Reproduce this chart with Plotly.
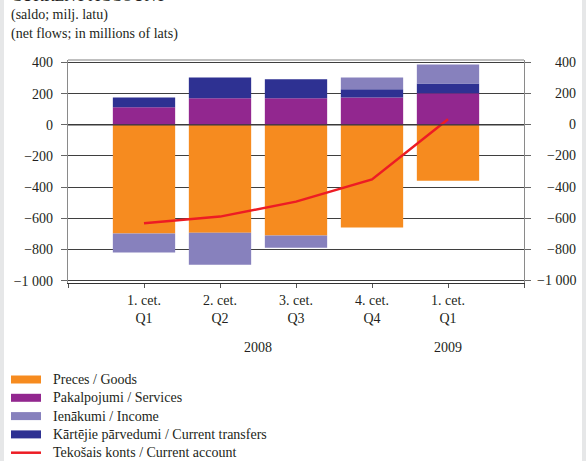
import plotly.graph_objects as go

# ---- data ----
categories = [0, 1, 2, 3, 4]
quarter_labels = ["1. cet.<br>Q1", "2. cet.<br>Q2", "3. cet.<br>Q3", "4. cet.<br>Q4", "1. cet.<br>Q1"]
years = ["2008", "2009"]
year_positions = [1.5, 4]

goods = [-697, -693, -710, -659, -359]
services = [112, 170, 170, 176, 202]
income = [-122, -205, -79, 76, 121]
transfers = [64, 134, 122, 52, 64]
current_account = [-631, -589, -493, -350, 36]

series_names = [
    "Preces / Goods",
    "Pakalpojumi / Services",
    "Ienākumi / Income",
    "Kārtējie pārvedumi / Current transfers",
    "Tekošais konts / Current account",
]
y_ticks = [-1000, -800, -600, -400, -200, 0, 200, 400]
y_tick_text = ["\u22121 000", "\u2212800", "\u2212600", "\u2212400", "\u2212200", "0", "200", "400"]

# ---- styles ----
C_GOODS = "#f68b1f"
C_SERV = "#92278f"
C_INC = "#8781bd"
C_TRANS = "#2e3192"
C_LINE = "#ed1c24"
FONT = "Liberation Serif"
TXT = "#231f20"

# pixel geometry of plot area
L, R, T, B = 68, 524, 60, 283
W, H = R - L, B - T


def px(xp):
    return (xp - L) / W


def py(yp):
    return (B - yp) / H


fig = go.Figure()
bw = 0.82
fig.add_bar(x=categories, y=goods, marker_color=C_GOODS, width=bw, name=series_names[0], showlegend=False)
fig.add_bar(x=categories, y=services, marker_color=C_SERV, width=bw, name=series_names[1], showlegend=False)
fig.add_bar(x=categories, y=transfers, marker_color=C_TRANS, width=bw, name=series_names[3], showlegend=False)
fig.add_bar(x=categories, y=income, marker_color=C_INC, width=bw, name=series_names[2], showlegend=False)
fig.add_scatter(x=categories, y=current_account, mode="lines", line=dict(color=C_LINE, width=2.5),
                name=series_names[4], showlegend=False)
fig.update_traces(marker_line_width=0, selector=dict(type="bar"))

shapes = []
annotations = []

# gray page strips at the sides
shapes.append(dict(type="rect", xref="paper", yref="paper", x0=px(0), x1=px(4), y0=py(461), y1=py(0),
                   fillcolor="#e6e7e8", line_width=0, layer="below"))
shapes.append(dict(type="rect", xref="paper", yref="paper", x0=px(582), x1=px(586), y0=py(461), y1=py(0),
                   fillcolor="#e6e7e8", line_width=0, layer="below"))
# top frame
shapes.append(dict(type="line", xref="paper", yref="paper", x0=0, x1=1, y0=1, y1=1,
                   line=dict(color="#808080", width=1.2)))
# zero line above bars
shapes.append(dict(type="line", xref="paper", yref="y", x0=0, x1=1, y0=0, y1=0,
                   line=dict(color="#3a3a3a", width=1.3), layer="above"))

# right-side tick labels (right aligned)
for v, t in zip(y_ticks, y_tick_text):
    annotations.append(dict(x=px(578), y=v, xref="paper", yref="y", text=t, showarrow=False,
                            xanchor="right", yanchor="middle", font=dict(family=FONT, size=14, color=TXT)))

# year labels
for yr, pos in zip(years, year_positions):
    annotations.append(dict(x=pos, y=py(347), xref="x", yref="paper", text=yr, showarrow=False,
                            xanchor="center", yanchor="middle", font=dict(family=FONT, size=14, color=TXT)))

# titles
annotations.append(dict(x=px(9), y=py(6), xref="paper", yref="paper", text="CURRENT ACCOUNT", showarrow=False,
                        xanchor="left", yanchor="bottom", font=dict(family=FONT, size=16, color=TXT)))
annotations.append(dict(x=px(9), y=py(15), xref="paper", yref="paper", text="(saldo; milj. latu)",
                        showarrow=False, xanchor="left", yanchor="middle", font=dict(family=FONT, size=14, color=TXT)))
annotations.append(dict(x=px(9), y=py(34), xref="paper", yref="paper", text="(net flows; in millions of lats)",
                        showarrow=False, xanchor="left", yanchor="middle", font=dict(family=FONT, size=14, color=TXT)))

# manual legend
leg_colors = [C_GOODS, C_SERV, C_INC, C_TRANS, C_LINE]
for i, (nm, col) in enumerate(zip(series_names, leg_colors)):
    yc = 379.5 + 18.3 * i
    if i < 4:
        shapes.append(dict(type="rect", xref="paper", yref="paper", x0=px(11), x1=px(41),
                           y0=py(yc + 4), y1=py(yc - 4), fillcolor=col, line_width=0))
    else:
        shapes.append(dict(type="line", xref="paper", yref="paper", x0=px(11), x1=px(41),
                           y0=py(yc), y1=py(yc), line=dict(color=col, width=2.5)))
    annotations.append(dict(x=px(51), y=py(yc), xref="paper", yref="paper", text=nm, showarrow=False,
                            xanchor="left", yanchor="middle", font=dict(family=FONT, size=14, color=TXT)))

fig.update_layout(
    barmode="relative",
    width=586, height=461,
    margin=dict(l=L, r=586 - R, t=T, b=461 - B),
    paper_bgcolor="white", plot_bgcolor="white",
    showlegend=False,
    shapes=shapes, annotations=annotations,
    font=dict(family=FONT, size=14, color=TXT),
    xaxis=dict(range=[-1, 5], tickmode="array", tickvals=[-1, 0, 1, 2, 3, 4, 5],
               ticktext=[""] + quarter_labels + [""], showgrid=False, zeroline=False,
               showline=True, linecolor="#333333", linewidth=1.3, ticks="outside", ticklen=4,
               tickcolor="#555555", tickfont=dict(family=FONT, size=14, color=TXT), fixedrange=True),
    yaxis=dict(range=[-1015, 416], tickmode="array", tickvals=y_ticks, ticktext=y_tick_text,
               showgrid=True, gridcolor="#3f3f3f", gridwidth=1, zeroline=False,
               showline=True, linecolor="#8a8a8a", linewidth=1.2, mirror="ticks", ticks="outside",
               ticklen=6, tickcolor="#666666", tickfont=dict(family=FONT, size=14, color=TXT),
               ticklabelstandoff=5, fixedrange=True),
)

fig.write_html(
    "out.html",
    config={"displayModeBar": False},
    post_script="document.body.style.margin='0';document.body.style.padding='0';",
)
